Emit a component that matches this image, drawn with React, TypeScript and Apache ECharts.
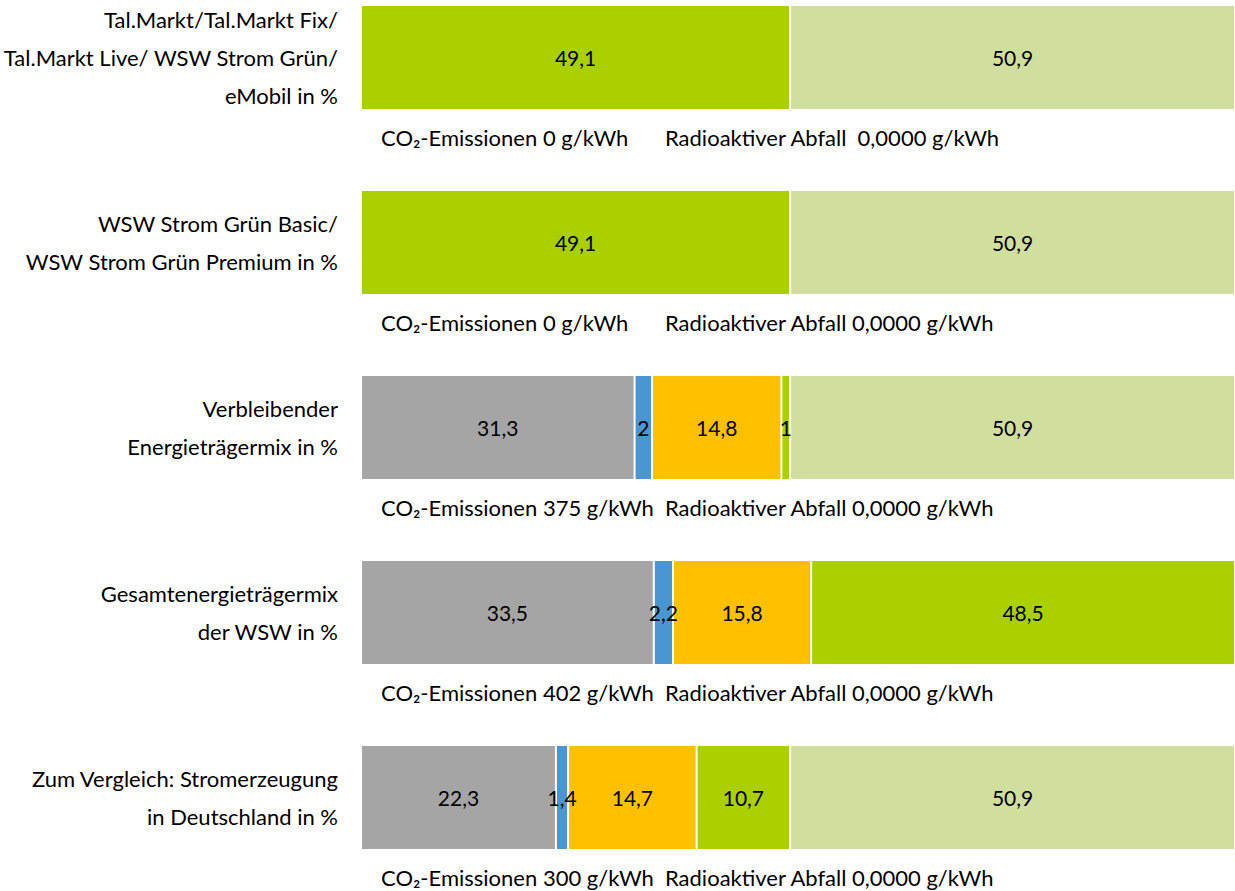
import React, { useEffect, useRef } from "react";
import * as echarts from "echarts";

const categories = [
  "Tal.Markt/Tal.Markt Fix/\nTal.Markt Live/ WSW Strom Grün/\neMobil in %",
  "WSW Strom Grün Basic/\nWSW Strom Grün Premium in %",
  "Verbleibender\nEnergieträgermix in %",
  "Gesamtenergieträgermix\nder WSW in %",
  "Zum Vergleich: Stromerzeugung\nin Deutschland in %",
];

const seriesNames = ["Fossil", "Kernkraft", "Erdgas", "Erneuerbare", "Erneuerbare EEG"];
const fossil = [null, null, 31.3, 33.5, 22.3];
const nuclear = [null, null, 2, 2.2, 1.4];
const gas = [null, null, 14.8, 15.8, 14.7];
const renewable = [49.1, 49.1, 1, 48.5, 10.7];
const renewableEEG = [50.9, 50.9, 50.9, null, 50.9];
const colors = ["#a5a5a5", "#4a96d2", "#ffc000", "#aad000", "#d0df9d"];

const co2Texts = [
  "CO₂-Emissionen 0 g/kWh",
  "CO₂-Emissionen 0 g/kWh",
  "CO₂-Emissionen 375 g/kWh",
  "CO₂-Emissionen 402 g/kWh",
  "CO₂-Emissionen 300 g/kWh",
];
const wasteTexts = [
  "Radioaktiver Abfall  0,0000 g/kWh",
  "Radioaktiver Abfall 0,0000 g/kWh",
  "Radioaktiver Abfall 0,0000 g/kWh",
  "Radioaktiver Abfall 0,0000 g/kWh",
  "Radioaktiver Abfall 0,0000 g/kWh",
];

const FONT = "Lato";
const FS = 22;
const OFFSET = 35;

export default function App() {
  const ref = useRef<HTMLDivElement>(null);
  useEffect(() => {
    if (!ref.current) return;
    const chart = echarts.init(ref.current, undefined, { renderer: "svg" });
    const all = [fossil, nuclear, gas, renewable, renewableEEG];
    const rowTop = 58 + OFFSET;
    const rowStep = 185;
    const graphic: any[] = [];
    co2Texts.forEach((t, i) => {
      graphic.push({
        type: "text",
        x: 381,
        y: rowTop + rowStep * i + 79,
        style: { text: t, fontFamily: FONT, fontSize: FS, fill: "#000", verticalAlign: "middle", align: "left" },
      });
      graphic.push({
        type: "text",
        x: 665,
        y: rowTop + rowStep * i + 79,
        style: { text: wasteTexts[i], fontFamily: FONT, fontSize: FS, fill: "#000", verticalAlign: "middle", align: "left" },
      });
    });
    chart.setOption({
      animation: false,
      textStyle: { fontFamily: FONT },
      grid: { left: 361, right: 0, top: 0, bottom: 0, containLabel: false },
      xAxis: { type: "value", min: 0, max: 100, show: false },
      yAxis: {
        type: "category",
        data: categories,
        inverse: true,
        axisLine: { show: false },
        axisTick: { show: false },
        axisLabel: {
          fontFamily: FONT,
          fontSize: FS,
          color: "#000",
          lineHeight: 38,
          align: "right",
          margin: 23,
        },
      },
      graphic,
      series: all.map((d, si) => ({
        type: "bar",
        name: seriesNames[si],
        stack: "total",
        data: d,
        barWidth: 105,
        itemStyle: { color: colors[si], borderColor: "#fff", borderWidth: 1 },
        label: {
          show: true,
          position: "inside",
          color: "#000",
          fontFamily: FONT,
          fontSize: 21,
          formatter: (p: any) => String(p.value).replace(".", ","),
        },
      })),
    });
    return () => chart.dispose();
  }, []);
  return (
    <div
      ref={ref}
      style={{ position: "fixed", left: 0, top: -OFFSET, width: 1235, height: 925, background: "#fff" }}
    />
  );
}
